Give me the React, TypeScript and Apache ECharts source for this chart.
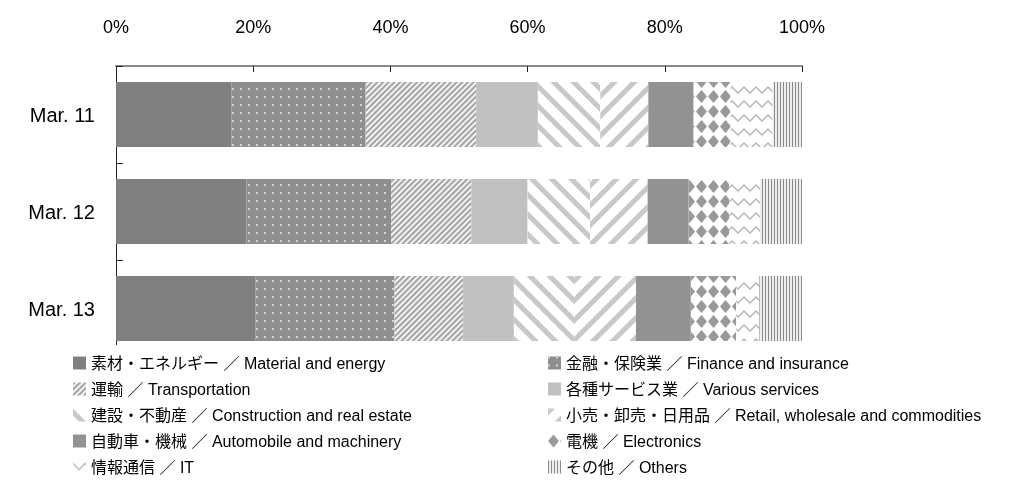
import React, { useEffect, useRef } from "react";
import * as echarts from "echarts";

const categories = ["Mar. 11", "Mar. 12", "Mar. 13"];
const xTicks = [0, 20, 40, 60, 80, 100];

const seriesNames = [
  "素材・エネルギー ／ Material and energy",
  "金融・保険業 ／ Finance and insurance",
  "運輸 ／ Transportation",
  "各種サービス業 ／ Various services",
  "建設・不動産 ／ Construction and real estate",
  "小売・卸売・日用品 ／ Retail, wholesale and commodities",
  "自動車・機械 ／ Automobile and machinery",
  "電機 ／ Electronics",
  "情報通信 ／ IT",
  "その他 ／ Others",
];

const material = [16.8, 19.0, 20.3];
const finance = [19.6, 21.1, 20.3];
const transport = [16.1, 11.7, 10.0];
const services = [9.0, 8.2, 7.4];
const construction = [9.1, 9.1, 8.9];
const retail = [7.0, 8.4, 8.9];
const auto = [6.6, 6.0, 8.0];
const electronics = [5.4, 5.9, 6.6];
const it = [6.1, 4.5, 3.4];
const others = [4.3, 6.1, 6.2];

const seriesValues = [material, finance, transport, services, construction, retail, auto, electronics, it, others];

const styles: any[] = [
  { color: "#808080" },
  { color: "#8e8e8e", decal: { symbol: "rect", symbolSize: 1, color: "#d4d4d4", dashArrayX: [2, 6], dashArrayY: [2, 6] } },
  { color: "#f2f2f2", decal: { symbol: "rect", symbolSize: 1, color: "#a4a4a4", dashArrayX: [1, 0], dashArrayY: [2, 2], rotation: -Math.PI / 4 } },
  { color: "#c0c0c0" },
  { color: "#ffffff", decal: { symbol: "rect", symbolSize: 1, color: "#c8c8c8", dashArrayX: [1, 0], dashArrayY: [5, 9], rotation: Math.PI / 4 } },
  { color: "#ffffff", decal: { symbol: "rect", symbolSize: 1, color: "#c8c8c8", dashArrayX: [1, 0], dashArrayY: [5, 9], rotation: -Math.PI / 4 } },
  { color: "#929292" },
  { color: "#ffffff", decal: { symbol: "diamond", symbolSize: 1, color: "#999999", dashArrayX: [11, 1], dashArrayY: [13, 2] } },
  { color: "#ffffff", decal: { symbol: "path://M0,0 L6,6 L12,0 L12,2 L6,8 L0,2 Z", symbolSize: 1, color: "#b4b4b4", dashArrayX: [12, 0], dashArrayY: [12, 2] } },
  { color: "#eeeeee", decal: { symbol: "rect", symbolSize: 1, color: "#8a8a8a", dashArrayX: [1, 2], dashArrayY: [1, 0] } },
];

const leftLegend = [0, 2, 4, 6, 8].map((i) => seriesNames[i]);
const rightLegend = [1, 3, 5, 7, 9].map((i) => seriesNames[i]);

const FONT = "'Liberation Sans', 'Noto Sans CJK JP', sans-serif";

export default function App() {
  const ref = useRef<HTMLDivElement>(null);
  useEffect(() => {
    if (!ref.current) return;
    const chart = echarts.init(ref.current, undefined, { renderer: "svg" });
    const legendCommon = {
      orient: "vertical",
      top: 345,
      padding: [10, 8, 4, 0],
      backgroundColor: "#ffffff",
      itemWidth: 13,
      itemHeight: 13,
      itemGap: 10,
      icon: "rect",
      selectedMode: false,
      textStyle: { fontFamily: FONT, fontSize: 16, color: "#000", lineHeight: 16 },
      z: 10,
    };
    chart.setOption({
      animation: false,
      textStyle: { fontFamily: FONT },
      grid: { left: 116, right: 209, top: 66, height: 291, containLabel: false },
      xAxis: {
        type: "value",
        position: "top",
        min: 0,
        max: 100,
        interval: 20,
        axisLine: { show: true, lineStyle: { color: "#8a8a8a", width: 2 } },
        axisTick: { show: true, inside: true, length: 6, lineStyle: { color: "#222" } },
        splitLine: { show: false },
        axisLabel: {
          formatter: (v: number) => (xTicks.includes(v) ? v + "%" : ""),
          fontSize: 18,
          color: "#000",
          margin: 30,
          fontFamily: FONT,
        },
      },
      yAxis: {
        type: "category",
        inverse: true,
        data: categories,
        axisLine: { show: true, lineStyle: { color: "#222", width: 1 } },
        axisTick: { show: true, inside: true, length: 7, lineStyle: { color: "#222" } },
        axisLabel: { fontSize: 20, color: "#000", margin: 21, fontFamily: FONT },
      },
      legend: [
        { ...legendCommon, left: 73, data: leftLegend },
        { ...legendCommon, left: 548, data: rightLegend },
      ],
      series: seriesNames.map((name, i) => ({
        name,
        type: "bar",
        stack: "total",
        barWidth: 65,
        data: seriesValues[i],
        itemStyle: styles[i],
        emphasis: { disabled: true },
      })),
    });
    return () => chart.dispose();
  }, []);
  return <div ref={ref} style={{ position: "fixed", left: 0, top: 0, width: 1011, height: 489 }} />;
}
